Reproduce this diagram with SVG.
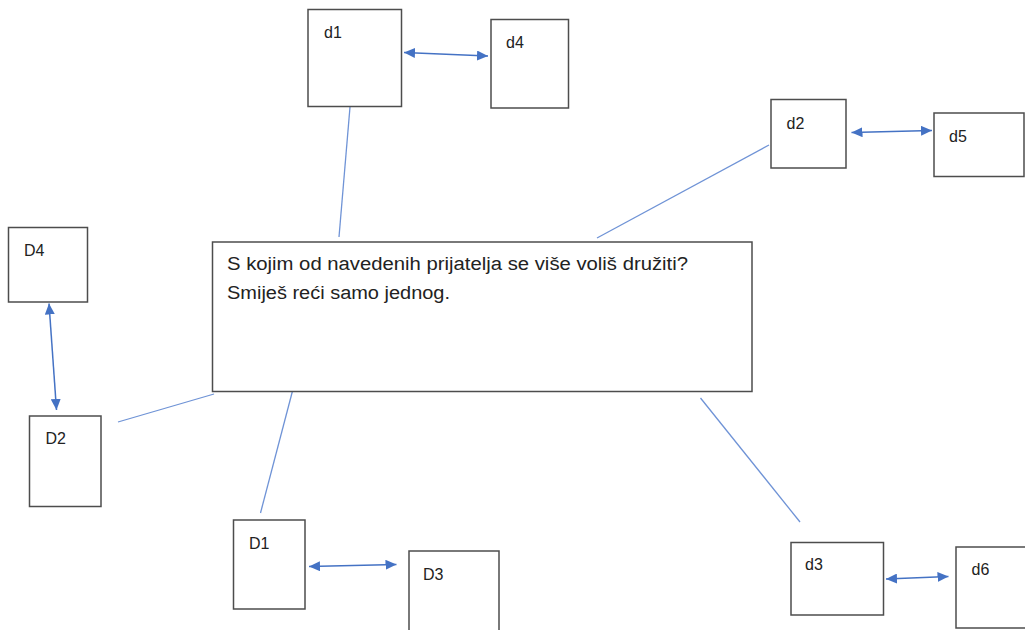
<svg xmlns="http://www.w3.org/2000/svg" width="1025" height="630" viewBox="0 0 1025 630">
<defs>
<marker id="ah" viewBox="0 0 11 10" refX="11" refY="5" markerWidth="11" markerHeight="10" markerUnits="userSpaceOnUse" orient="auto-start-reverse">
<path d="M0,0 L11,5 L0,10 Z" fill="#4472C4"/>
</marker>
<style>
.box{fill:#ffffff;stroke:#4d4d4d;stroke-width:1.5}
.lbl{font-family:"Liberation Sans",Arial,sans-serif;font-size:16px;fill:#222222}
.q{font-family:"Liberation Sans",Arial,sans-serif;font-size:18px;fill:#222222}
.ln{stroke:#6f93d6;stroke-width:1.3;fill:none}
.ar{stroke:#4472C4;stroke-width:1.5;fill:none;marker-start:url(#ah);marker-end:url(#ah)}
</style>
</defs>
<rect width="1025" height="630" fill="#ffffff"/>
<g id="connectors">
<line class="ln" x1="350" y1="107" x2="339" y2="237"/>
<line class="ln" x1="769" y1="145" x2="597" y2="238"/>
<line class="ln" x1="214" y1="394" x2="118" y2="422"/>
<line class="ln" x1="292.5" y1="391" x2="260.5" y2="513"/>
<line class="ln" x1="700.5" y1="398" x2="800" y2="522"/>
<line class="ar" x1="404" y1="52.5" x2="488" y2="56"/>
<line class="ar" x1="851.5" y1="132.5" x2="932" y2="130.5"/>
<line class="ar" x1="49" y1="303.5" x2="56.5" y2="410"/>
<line class="ar" x1="309" y1="566.5" x2="396.5" y2="564.5"/>
<line class="ar" x1="886" y1="579" x2="948.5" y2="576.5"/>
</g>
<g id="main">
<rect class="box" x="212.5" y="242" width="539.5" height="149.5"/>
<text class="q" x="227" y="270" textLength="461" lengthAdjust="spacingAndGlyphs">S kojim od navedenih prijatelja se više voliš družiti?</text>
<text class="q" x="227" y="298.5" textLength="223" lengthAdjust="spacingAndGlyphs">Smiješ reći samo jednog.</text>
</g>
<g id="d1">
<rect class="box" x="308" y="9.5" width="93.5" height="97"/>
<text class="lbl" x="324" y="38">d1</text>
</g>
<g id="d4">
<rect class="box" x="491" y="19.5" width="77.5" height="88.5"/>
<text class="lbl" x="506" y="48">d4</text>
</g>
<g id="d2">
<rect class="box" x="771" y="99.5" width="75" height="68.5"/>
<text class="lbl" x="786.5" y="128.5">d2</text>
</g>
<g id="d5">
<rect class="box" x="934" y="113" width="90" height="63.5"/>
<text class="lbl" x="949" y="142">d5</text>
</g>
<g id="D4">
<rect class="box" x="8.5" y="227.5" width="79" height="74.5"/>
<text class="lbl" x="24" y="256">D4</text>
</g>
<g id="D2">
<rect class="box" x="29.5" y="416" width="71.5" height="90.5"/>
<text class="lbl" x="45.5" y="444">D2</text>
</g>
<g id="D1">
<rect class="box" x="233.5" y="520" width="71.5" height="89"/>
<text class="lbl" x="249" y="549">D1</text>
</g>
<g id="D3">
<rect class="box" x="409" y="551" width="90" height="90"/>
<text class="lbl" x="423" y="580">D3</text>
</g>
<g id="d3">
<rect class="box" x="791" y="542.5" width="92.5" height="72.5"/>
<text class="lbl" x="805" y="570">d3</text>
</g>
<g id="d6">
<rect class="box" x="956" y="547" width="80" height="81"/>
<text class="lbl" x="971.5" y="575">d6</text>
</g>
</svg>
